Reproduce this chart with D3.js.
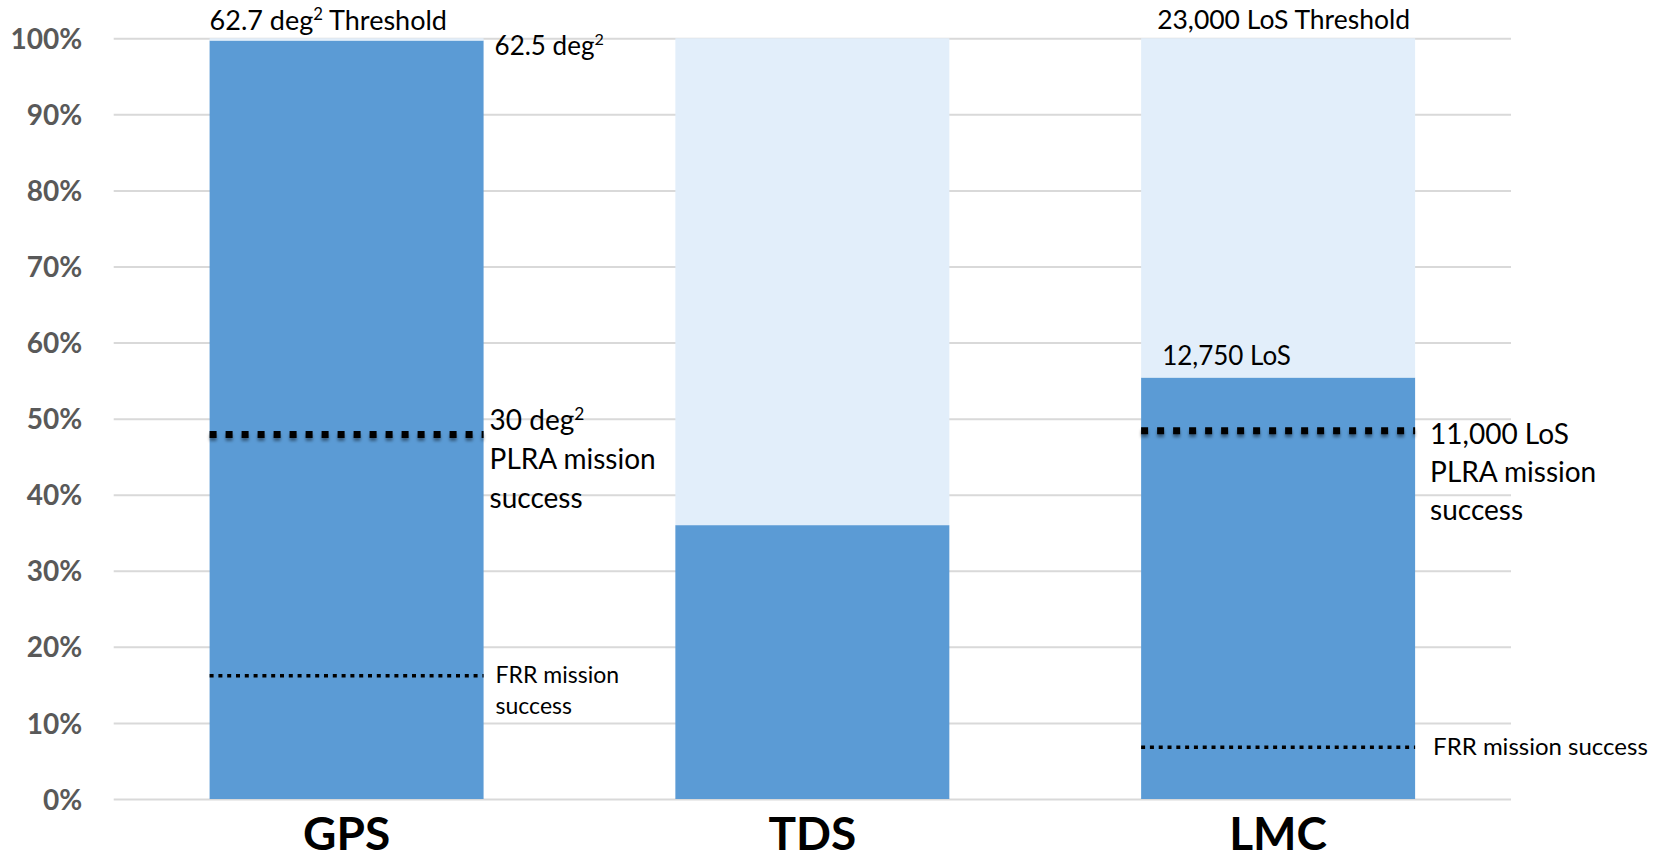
<!DOCTYPE html>
<html>
<head>
<meta charset="utf-8">
<script src="https://cdn.jsdelivr.net/npm/d3@7"></script>
<style>
  html, body { margin: 0; padding: 0; background: #fff; }
  svg { display: block; font-family: Lato, "Open Sans", sans-serif; }
</style>
</head>
<body>
<svg id="chart" width="1666" height="860"></svg>
<script>
// ---------- data ----------
const categories = ["GPS", "TDS", "LMC"];
const achieved   = [99.7, 36.0, 55.4];   // % of threshold reached (dark blue)
const remaining  = [0.3, 64.0, 44.6];    // % left to threshold (light blue)
const yTicks     = [0, 10, 20, 30, 40, 50, 60, 70, 80, 90, 100];
const yTickLabels = ["0%", "10%", "20%", "30%", "40%", "50%", "60%", "70%", "80%", "90%", "100%"];
const plraCats   = ["GPS", "LMC"];
const plraValues = [47.9, 48.4];         // PLRA mission success level
const frrCats    = ["GPS", "LMC"];
const frrValues  = [16.2, 6.8];          // FRR mission success level

// ---------- layout ----------
const W = 1666, H = 860;
const plot = { left: 113.7, right: 1511, top: 38.25, bottom: 799 };
const svg = d3.select("#chart");

const x = d3.scaleBand()
  .domain(categories)
  .range([plot.left, plot.right])
  .paddingInner(0.7 / 1.7)
  .paddingOuter(0.35 / 1.7);
const y = d3.scaleLinear().domain([0, 100]).range([plot.bottom, plot.top]);

const defs = svg.append("defs");
const f = defs.append("filter").attr("id", "shadow")
  .attr("filterUnits", "userSpaceOnUse")
  .attr("x", 0).attr("y", 0).attr("width", W).attr("height", H);
f.append("feDropShadow").attr("dx", 0).attr("dy", 3).attr("stdDeviation", 1.6)
  .attr("flood-color", "#000").attr("flood-opacity", 0.4);

// gridlines (y axis)
const yAxis = d3.axisLeft(y).tickValues(yTicks)
  .tickSize(-(plot.right - plot.left))
  .tickFormat((d, i) => yTickLabels[i]);
const ga = svg.append("g").attr("transform", `translate(${plot.left},0)`).call(yAxis);
ga.select(".domain").remove();
ga.selectAll(".tick line").attr("stroke", "#d9d9d9").attr("stroke-width", 2);
ga.selectAll(".tick text")
  .attr("x", -31.5).attr("dy", "0.36em")
  .attr("fill", "#595959")
  .style("font-family", "Lato, sans-serif")
  .style("font-size", "28px").style("font-weight", "700");

// stacked bars
const rows = categories.map((c, i) => ({ cat: c, a: achieved[i], r: remaining[i] }));
const stack = d3.stack().keys(["a", "r"])(rows);
const colors = { a: "#5b9bd5", r: "#e2eefa" };
svg.append("g").selectAll("g").data(stack).join("g")
  .attr("fill", d => colors[d.key])
  .selectAll("rect").data(d => d).join("rect")
  .attr("x", d => x(d.data.cat))
  .attr("width", x.bandwidth())
  .attr("y", d => y(d[1]))
  .attr("height", d => y(d[0]) - y(d[1]));

// PLRA thick dotted lines
svg.append("g").attr("filter", "url(#shadow)")
  .selectAll("line").data(plraCats).join("line")
  .attr("x1", d => x(d)).attr("x2", d => x(d) + x.bandwidth())
  .attr("y1", (d, i) => y(plraValues[i])).attr("y2", (d, i) => y(plraValues[i]))
  .attr("stroke", "#000").attr("stroke-width", 7)
  .attr("stroke-dasharray", "7,9");

// FRR thin dotted lines
svg.append("g").selectAll("line").data(frrCats).join("line")
  .attr("x1", d => x(d)).attr("x2", d => x(d) + x.bandwidth())
  .attr("y1", (d, i) => y(frrValues[i])).attr("y2", (d, i) => y(frrValues[i]))
  .attr("stroke", "#000").attr("stroke-width", 3.5)
  .attr("stroke-dasharray", "4,4.8");

// category labels
svg.append("g").selectAll("text").data(categories).join("text")
  .attr("x", d => x(d) + x.bandwidth() / 2)
  .attr("y", 850)
  .attr("text-anchor", "middle")
  .style("font-size", "46px").style("font-weight", "700")
  .attr("fill", "#000")
  .text(d => d);

// ---------- annotations ----------
// "^2" in a line marks a superscript 2
function note(xPos, yPos, lines, size, lineH) {
  const g = svg.append("g");
  lines.forEach((ln, i) => {
    const t = g.append("text").attr("x", xPos).attr("y", yPos + i * lineH)
      .style("font-size", size + "px").attr("fill", "#000");
    const parts = ln.split("^2");
    const shift = size * 0.36;
    parts.forEach((p, j) => {
      const ts = t.append("tspan").text(p);
      if (j > 0) ts.attr("dy", shift);
      if (j < parts.length - 1) {
        t.append("tspan").text("2")
          .style("font-size", (size * 0.62) + "px")
          .attr("dy", -shift);
      }
    });
  });
  return g;
}

const gps = "GPS", lmc = "LMC";
const barR = c => x(c) + x.bandwidth();

note(x(gps), 30, ["62.7 deg^2 Threshold"], 27, 0);
note(barR(gps) + 11, y(achieved[0]) + 14, ["62.5 deg^2"], 26, 0);
note(barR(gps) + 6, y(plraValues[0]) - 5, ["30 deg^2", "PLRA mission", "success"], 28, 39);
note(barR(gps) + 12, y(frrValues[0]) + 7, ["FRR mission", "success"], 23, 31);

note(x(lmc) + 16, 29, ["23,000 LoS Threshold"], 26.5, 0);
note(x(lmc) + 21, y(achieved[2]) - 12.5, ["12,750 LoS"], 26, 0);
note(barR(lmc) + 15, y(plraValues[1]) + 13, ["11,000 LoS", "PLRA mission", "success"], 28, 38);
note(barR(lmc) + 18, y(frrValues[1]) + 8, ["FRR mission success"], 24, 0);
</script>
</body>
</html>
